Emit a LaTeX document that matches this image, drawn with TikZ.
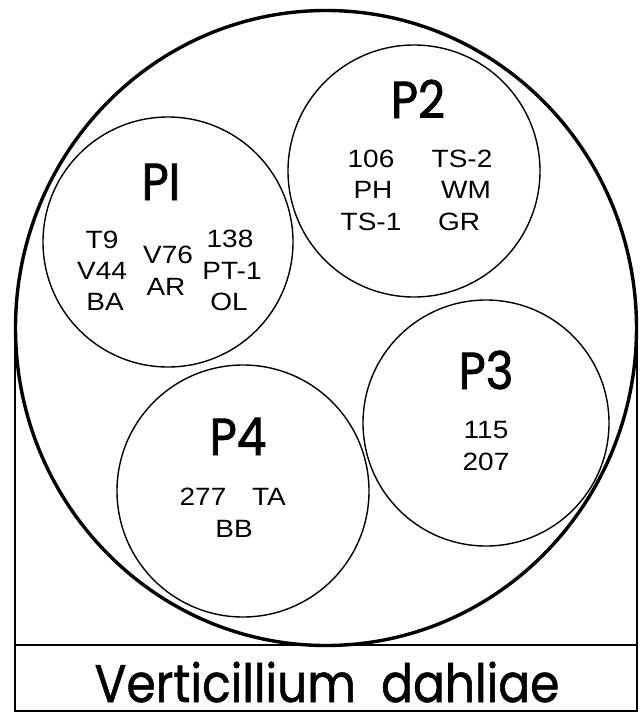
\documentclass[tikz,border=0pt]{standalone}
\usepackage{fontspec}
\setmainfont{Liberation Sans}
\newfontfamily\strfont[FakeStretch=1.12]{Liberation Sans}
\newfontfamily\geo[FakeStretch=0.9,FakeBold=1.5]{Poppins}
\newfontfamily\geot[FakeStretch=0.89,FakeBold=1]{Poppins}
\begin{document}
\begin{tikzpicture}[x=1pt,y=-1pt,
  grp/.style={circle,draw,line width=1.4pt,inner sep=0pt},
  plabel/.style={font=\geo\fontsize{52}{52}\selectfont,inner sep=0pt,anchor=base},
  strain/.style={font=\strfont\fontsize{25}{25}\selectfont,inner sep=0pt,anchor=base},
  heavy/.style={line width=3.4pt},
  frame/.style={line width=2.6pt}]
\useasboundingbox (0,0) rectangle (640,720);
% outer enclosure
\draw[heavy] (326,328) ellipse [x radius=310.5, y radius=317.5];
\coordinate (lt) at (15,330);
\coordinate (lb) at (15,711);
\coordinate (rt) at (637,330);
\coordinate (rb) at (637,711);
\coordinate (ml) at (15,645);
\coordinate (mr) at (637,645);
\draw[frame] (lt) -- (lb) -- (rb) -- (rt);
\draw[frame] (ml) -- (mr);
% groups
\node[grp,minimum size=250pt] (c1) at (168,242) {};
\node[grp,minimum size=252pt] (c2) at (414,171) {};
\node[grp,minimum size=246pt] (c3) at (486,423) {};
\node[grp,minimum size=252pt] (c4) at (243,491) {};
% labels
\node[plabel] (p1) at (161,200) {PI};
\node[plabel] (p2) at (418,118) {P2};
\node[plabel] (p3) at (486,389) {P3};
\node[plabel] (p4) at (238,455) {P4};
% P1 strains
\node[strain] (t9) at (102,248) {T9};
\node[strain] (v44) at (102,279) {V44};
\node[strain] (ba) at (105,310) {BA};
\node[strain] (v76) at (168,263) {V76};
\node[strain] (ar) at (166,295) {AR};
\node[strain] (s138) at (230,247) {138};
\node[strain] (pt1) at (232,279) {PT-1};
\node[strain] (ol) at (229,310) {OL};
% P2 strains
\node[strain] (s106) at (371,167) {106};
\node[strain] (ph) at (373,198) {PH};
\node[strain] (ts1) at (371,230) {TS-1};
\node[strain] (ts2) at (462,167) {TS-2};
\node[strain] (wm) at (466,198) {WM};
\node[strain] (gr) at (459,230) {GR};
% P3 strains
\node[strain] (s115) at (486,438) {115};
\node[strain] (s207) at (486,470) {207};
% P4 strains
\node[strain] (s277) at (203,505) {277};
\node[strain] (ta) at (269,505) {TA};
\node[strain] (bb) at (234,537) {BB};
% title
\node[font=\geot\fontsize{53}{53}\selectfont,inner sep=0pt,anchor=base] (title) at (327,702) {Verticillium\ \ dahliae};
\end{tikzpicture}
\end{document}
